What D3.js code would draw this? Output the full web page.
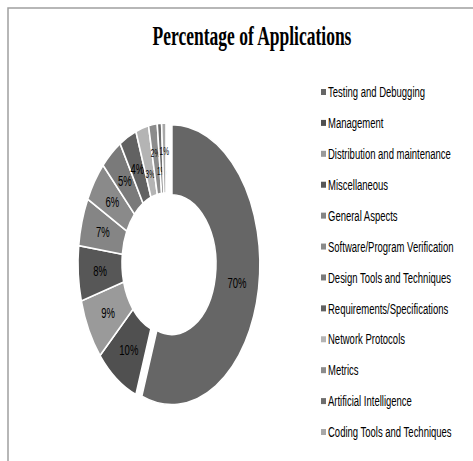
<!DOCTYPE html>
<html>
<head>
  <meta charset="utf-8">
  <style>
    body { margin: 0; background: #fff; }
    .legend text { font-family: "Liberation Sans", Arial, sans-serif; font-size: 9.5px; fill: #000; }
    .lbl { font-family: "Liberation Sans", Arial, sans-serif; fill: #000; }
  </style>
</head>
<body>
  <svg width="473" height="461"></svg>
  <script src="https://d3js.org/d3.v7.min.js"></script>
  <script>

  var categories = ["Testing and Debugging", "Management", "Distribution and maintenance",
                    "Miscellaneous", "General Aspects", "Software/Program Verification",
                    "Design Tools and Techniques", "Requirements/Specifications",
                    "Network Protocols", "Metrics", "Artificial Intelligence",
                    "Coding Tools and Techniques"];
  var percents = [70, 10, 9, 8, 7, 6, 5, 4, 3, 2, 1, 1];
  var shades = ["#666666", "#505050", "#9a9a9a", "#575757", "#858585", "#8a8a8a",
                "#7a7a7a", "#626262", "#b4b4b4", "#8c8c8c", "#6e6e6e", "#a8a8a8"];

  var svg = d3.select("svg");

  // frame (only top and left edges fall inside the picture)
  svg.append("path")
    .attr("d", "M8,470 L8,8 L480,8")
    .attr("fill", "none")
    .attr("stroke", "#a0a0a0")
    .attr("stroke-width", 1.5);

  svg.append("text")
    .attr("transform", "translate(252,45) scale(1,1.55)")
    .attr("text-anchor", "middle")
    .style("font", "bold 17.5px 'Liberation Serif', 'Times New Roman', serif")
    .text("Percentage of Applications");

  var rOuter = 88, rInner = 44, explode = 6;

  var pie = d3.pie().sort(null).value(function(d) { return d; });
  var arc = d3.arc().innerRadius(rInner).outerRadius(rOuter);

  var g = svg.append("g")
    .attr("transform", "translate(166,263) scale(1,1.59)");

  var slices = g.selectAll(".slice")
    .data(pie(percents))
    .enter().append("g")
    .attr("class", "slice")
    .attr("transform", function(d, i) {
      if (i !== 0) return null;
      var a = (d.startAngle + d.endAngle) / 2;
      return "translate(" + (Math.sin(a) * explode) + "," + (-Math.cos(a) * explode) + ")";
    });

  slices.append("path")
    .attr("d", arc)
    .attr("fill", function(d, i) { return shades[i]; })
    .attr("stroke", "#fff")
    .attr("stroke-width", 1.6)
    .attr("vector-effect", "non-scaling-stroke");

  // the thin slices at the top are crowded: stagger their labels a little
  slices.append("text")
    .attr("class", "lbl")
    .style("font-size", function(d) { return d.data < 4 ? "6.5px" : "9.5px"; })
    .attr("transform", function(d, i) {
      var a = (d.startAngle + d.endAngle) / 2,
          r = (rInner + rOuter) / 2;
      if (d.data < 4) r += (i % 2 === 0 ? -8 : 4);
      return "translate(" + (Math.sin(a) * r) + "," + (-Math.cos(a) * r) + ")";
    })
    .attr("text-anchor", "middle")
    .attr("dy", "0.35em")
    .text(function(d) { return d.data + "%"; });

  var y = d3.scalePoint().domain(categories).range([92, 432]);

  var legend = svg.append("g").attr("class", "legend")
    .selectAll("g")
    .data(categories)
    .enter().append("g")
    .attr("transform", function(d) { return "translate(321," + y(d) + ")"; });

  legend.append("rect")
    .attr("x", 0).attr("y", -3)
    .attr("width", 5).attr("height", 6)
    .attr("fill", function(d, i) { return shades[i]; });

  legend.append("text")
    .attr("transform", "translate(7,0) scale(1,1.55)")
    .attr("dy", "0.35em")
    .text(function(d) { return d; });

  </script>
</body>
</html>
